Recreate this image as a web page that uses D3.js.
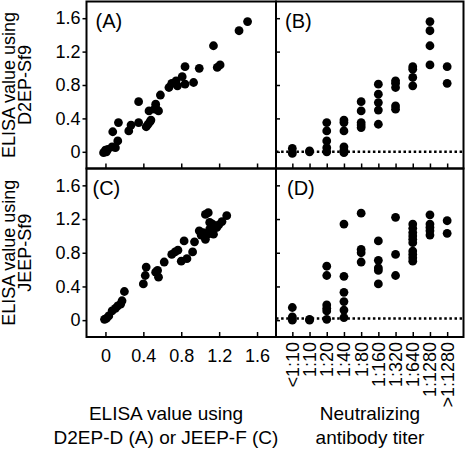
<!DOCTYPE html>
<html><head><meta charset="utf-8">
<script src="https://cdn.jsdelivr.net/npm/d3@7"></script>
<style>body{margin:0;background:#fff}svg{display:block}text{font-family:"Liberation Sans",Arial,sans-serif;fill:#000}</style>
</head><body>
<svg id="c" width="466" height="453"></svg>
<script>
// ---- data ----
const yTicks = [0, 0.4, 0.8, 1.2, 1.6];
const xTicks = [0, 0.4, 0.8, 1.2, 1.6];
const titers = ["<1:10","1:10","1:20","1:40","1:80","1:160","1:320","1:640","1:1280",">1:1280"];
// Panel A: x = ELISA D2EP-D, y = ELISA D2EP-Sf9
const aX = [-0.02,0.01,0.0,0.025,0.07,0.105,0.13,0.077,0.137,0.246,0.27,0.35,0.35,0.43,0.45,0.47,0.48,0.46,0.52,0.56,0.53,0.53,0.58,0.67,0.70,0.745,0.76,0.81,0.84,0.84,0.93,0.99,1.14,1.18,1.21,1.41,1.50];
const aY = [-0.01,0.0,0.02,0.03,0.06,0.05,0.13,0.24,0.35,0.25,0.32,0.35,0.60,0.30,0.33,0.36,0.38,0.49,0.51,0.49,0.57,0.53,0.68,0.77,0.82,0.85,0.79,0.90,0.81,1.02,0.83,1.00,1.27,1.01,1.04,1.45,1.56];
// Panel C: x = ELISA JEEP-F, y = ELISA JEEP-Sf9
const cX = [-0.01,0.01,0.035,0.07,0.105,0.13,0.16,0.175,0.2,0.40,0.42,0.43,0.53,0.55,0.56,0.62,0.70,0.735,0.765,0.80,0.86,0.83,0.92,0.94,0.99,1.01,1.03,1.055,1.08,1.10,1.055,1.085,1.10,1.13,1.14,1.175,1.195,1.23,1.28];
const cY = [0.01,0.02,0.05,0.11,0.14,0.17,0.19,0.23,0.34,0.43,0.53,0.63,0.57,0.59,0.51,0.69,0.78,0.81,0.83,0.70,0.73,0.94,0.81,0.93,1.06,1.01,1.04,0.96,1.02,1.08,1.255,1.275,1.16,1.14,1.02,1.10,1.13,1.17,1.24];
// Panel B: titer category index, ELISA D2EP-Sf9
const bCat = [0,0,1,1,2,2,2,2,2,3,3,3,3,3,3,4,4,4,4,4,5,5,5,5,5,6,6,6,6,6,7,7,7,7,8,8,8,8,9,9];
const bY   = [0.04,-0.02,0.01,0.0,0.35,0.25,0.13,0.05,0.0,0.38,0.35,0.25,0.06,0.02,-0.01,0.60,0.49,0.35,0.32,0.29,0.81,0.69,0.59,0.50,0.33,0.85,0.82,0.77,0.55,0.51,1.02,0.99,0.89,0.79,1.56,1.45,1.27,1.04,1.02,0.82];
// Panel D: titer category index, ELISA JEEP-Sf9
const dCat = [0,0,0,1,1,2,2,2,2,2,2,3,3,3,3,3,3,4,4,4,4,5,5,5,5,5,6,6,6,7,7,7,7,7,7,7,7,7,7,8,8,8,8,8,9,9];
const dY   = [0.15,0.04,0.0,0.01,0.0,0.64,0.53,0.18,0.14,0.11,0.01,1.14,0.52,0.33,0.22,0.12,0.03,1.27,0.84,0.80,0.69,0.94,0.71,0.62,0.59,0.43,1.22,0.78,0.53,1.14,1.09,1.04,1.00,0.96,0.92,0.82,0.78,0.74,0.70,1.25,1.14,1.10,1.06,1.01,1.18,1.03];
const cutoffB = 0.0, cutoffD = 0.02;

// ---- layout ----
const svg = d3.select("#c");
const L = 86.5, M = 276, R = 463.5, T = 1.5, H = 168.5, B = 337;
const fs = 18, fsTitle = 19;

const xLin = d3.scaleLinear().domain([-0.2, 1.8]).range([L, M]);
const xCat = d3.scalePoint().domain(titers).range([M, R]).padding(0.95);
const yTop = d3.scaleLinear().domain([-0.2, 1.8]).range([H, T]);
const yBot = d3.scaleLinear().domain([-0.2, 1.8]).range([B, H]);

const fmt = d => d === 0 ? "0" : d3.format(".1f")(d);

function frame(x0, y0, x1, y1) {
  svg.append("rect").attr("x", x0).attr("y", y0).attr("width", x1 - x0).attr("height", y1 - y0)
    .attr("fill", "none").attr("stroke", "#000").attr("stroke-width", 2);
}
function styleAxis(g) {
  g.select(".domain").remove();
  g.selectAll("line").attr("stroke", "#000").attr("stroke-width", 1.5);
  g.selectAll("text").style("font-size", fs + "px").attr("fill", "#000");
}

// left y axes (labels, outward ticks)
[yTop, yBot].forEach(y => {
  svg.append("g").attr("transform", `translate(${L},0)`)
    .call(d3.axisLeft(y).tickValues(yTicks).tickFormat(fmt).tickSize(4).tickPadding(2))
    .call(styleAxis);
  // inward ticks on right panels
  svg.append("g").attr("transform", `translate(${M},0)`)
    .call(d3.axisRight(y).tickValues(yTicks).tickFormat("").tickSize(4))
    .call(styleAxis);
});
// bottom x ticks inward
[H, B].forEach((yy, i) => {
  const g = svg.append("g").attr("transform", `translate(0,${yy})`)
    .call(d3.axisBottom(xLin).tickValues(xTicks).tickFormat(fmt).tickSizeInner(-5).tickSizeOuter(0).tickPadding(12))
    .call(styleAxis);
  if (i === 0) g.selectAll("text").remove();
  svg.append("g").attr("transform", `translate(0,${yy})`)
    .call(d3.axisBottom(xCat).tickFormat("").tickSizeInner(-5).tickSizeOuter(0))
    .call(styleAxis);
});
// rotated titer labels
svg.append("g").selectAll("text").data(titers).join("text")
  .attr("transform", d => `translate(${xCat(d)},342) rotate(-90)`)
  .attr("text-anchor", "end").attr("dy", "0.36em")
  .style("font-size", fs + "px").text(d => d);

// cutoff dotted lines
[[yTop, cutoffB], [yBot, cutoffD]].forEach(([y, c]) => {
  svg.append("line").attr("x1", M).attr("x2", R).attr("y1", y(c)).attr("y2", y(c))
    .attr("stroke", "#000").attr("stroke-width", 2.5).attr("stroke-dasharray", "2.5,2.6");
});

// points
const r = 4.4;
function dots(xs, ys, sx, sy) {
  svg.append("g").selectAll("circle").data(xs.map((v, i) => [v, ys[i]])).join("circle")
    .attr("cx", d => sx(d[0])).attr("cy", d => sy(d[1])).attr("r", r).attr("fill", "#000");
}
dots(aX, aY, xLin, yTop);
dots(cX, cY, xLin, yBot);
dots(bCat.map(i => titers[i]), bY, xCat, yTop);
dots(dCat.map(i => titers[i]), dY, xCat, yBot);

// frames
frame(L, T, M, H); frame(M, T, R, H); frame(L, H, M, B); frame(M, H, R, B);

// panel labels
[["(A)", L + 9, 28], ["(B)", M + 9, 28], ["(C)", L + 6, 195], ["(D)", M + 11, 195]].forEach(([t, x, y]) => {
  svg.append("text").attr("x", x).attr("y", y).style("font-size", "20px").text(t);
});

// y titles
[[yTop, "D2EP-Sf9"], [yBot, "JEEP-Sf9"]].forEach(([y, l2]) => {
  const cy = (y.range()[0] + y.range()[1]) / 2;
  svg.append("text").attr("transform", `translate(15,${cy}) rotate(-90)`).attr("text-anchor", "middle")
    .style("font-size", fs + "px").text("ELISA value using");
  svg.append("text").attr("transform", `translate(31,${cy}) rotate(-90)`).attr("text-anchor", "middle")
    .style("font-size", fs + "px").text(l2);
});
// x titles
const cxL = 166, cxR = 370;
[["ELISA value using", cxL, 420], ["D2EP-D (A) or JEEP-F (C)", cxL, 444],
 ["Neutralizing", cxR, 420], ["antibody titer", cxR, 444]].forEach(([t, x, y]) => {
  svg.append("text").attr("x", x).attr("y", y).attr("text-anchor", "middle").style("font-size", fsTitle + "px").text(t);
});
</script>
</body></html>
